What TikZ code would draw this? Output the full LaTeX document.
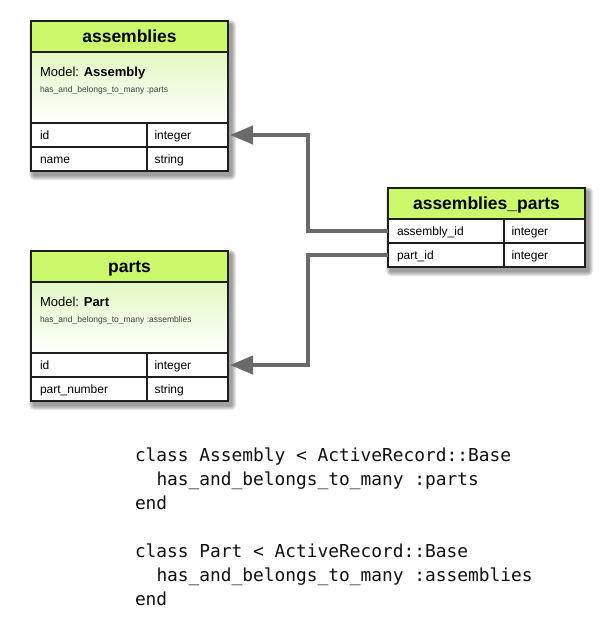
\documentclass[tikz,border=0pt]{standalone}
\usepackage{fontspec}
\setmainfont{Liberation Sans}
\newfontfamily\codefont{DejaVu Sans Mono}
\usepackage{tikz}
\usetikzlibrary{positioning,arrows.meta,calc,backgrounds,fit}
\definecolor{hdgreen}{HTML}{CCF86B}
\definecolor{mdgreen}{HTML}{E2F8C2}
\definecolor{edge}{HTML}{1E1E1E}
\definecolor{linkgray}{HTML}{6A6A6A}
\definecolor{codeink}{HTML}{111111}

\begin{document}
\begin{tikzpicture}[x=1pt,y=-1pt,
  every node/.style={outer sep=0pt},
  hd/.style={draw=edge,line width=1.2pt,fill=hdgreen,minimum width=197pt,minimum height=31pt,
    anchor=north west,inner sep=0pt,text height=12.5pt,text depth=0pt,
    font=\fontsize{17.5}{20}\selectfont\bfseries},
  md/.style={draw=edge,line width=1.2pt,top color=mdgreen,bottom color=white,
    minimum width=197pt,minimum height=71pt,anchor=north west,inner sep=0pt},
  fl/.style={draw=edge,line width=1.2pt,fill=white,minimum height=24pt,anchor=north west,
    inner ysep=0pt,inner xsep=9pt,text width=98pt,align=left,text height=8.6pt,text depth=0pt,
    font=\fontsize{12}{14}\selectfont},
  ty/.style={fl,inner xsep=7.5pt,text width=66pt},
  mt/.style={anchor=base west,inner sep=0pt,font=\fontsize{13}{15}\selectfont},
  hb/.style={anchor=base west,inner sep=0pt,text=black!75,font=\fontsize{8.5}{10}\selectfont},
  cd/.style={anchor=base west,inner sep=0pt,text=codeink,font=\fontsize{17.85}{24}\selectfont\codefont},
  ln/.style={draw=linkgray,line width=4pt,-{Triangle[length=23pt,width=18pt]},shorten >=2pt},
  sh/.style={draw=none,fill=black,fill opacity=.09,xshift=3pt,yshift=-4pt}]
\useasboundingbox (0,0) rectangle (610,621);

% assemblies
\node[hd] (as-head) at (31,21) {assemblies};
\node[md] (as-model) at (as-head.south west) {};
\node[mt] (as-name) at ($(as-model.north west)+(9,24)$) {Model: \textbf{Assembly}};
\node[hb] (as-habtm) at ($(as-model.north west)+(9,40)$) {has\_and\_belongs\_to\_many :parts};
\foreach \i/\f/\t in {1/id/integer,2/name/string}{
  \node[fl] (as-f\i) at (31,{99+\i*24}) {\f};
  \node[ty] (as-t\i) at (as-f\i.north east) {\t};
}

% parts
\node[hd] (pt-head) at (31,251) {parts};
\node[md] (pt-model) at (pt-head.south west) {};
\node[mt] (pt-name) at ($(pt-model.north west)+(9,24)$) {Model: \textbf{Part}};
\node[hb] (pt-habtm) at ($(pt-model.north west)+(9,40)$) {has\_and\_belongs\_to\_many :assemblies};
\foreach \i/\f/\t in {1/id/integer,2/part\_number/string}{
  \node[fl] (pt-f\i) at (31,{329+\i*24}) {\f};
  \node[ty] (pt-t\i) at (pt-f\i.north east) {\t};
}

% join table
\node[hd] (ap-head) at (388,188) {assemblies\_parts};
\foreach \i/\f/\t in {1/assembly\_id/integer,2/part\_id/integer}{
  \node[fl] (ap-f\i) at (388,{195+\i*24}) {\f};
  \node[ty] (ap-t\i) at (ap-f\i.north east) {\t};
}

% shadows
\begin{scope}[on background layer]
\foreach \a/\b in {as-head/as-t2,pt-head/pt-t2,ap-head/ap-t2}
  \foreach \s in {1,...,5}
    \node[sh,fit=(\a)(\b),inner sep=\s pt,rounded corners=\s pt] {};
\end{scope}

% links
\draw[ln] (ap-f1.west) -- ++(-80,0) |- (as-t1.east);
\draw[ln] (ap-f2.west) -- ++(-80,0) |- (pt-t1.east);

% ruby code
\foreach \i/\n/\t in {0/0/{class Assembly < ActiveRecord::Base},
  1/2/{has\_and\_belongs\_to\_many :parts},
  2/0/end,
  4/0/{class Part < ActiveRecord::Base},
  5/2/{has\_and\_belongs\_to\_many :assemblies},
  6/0/end}
  \node[cd] (code\i) at ({135+\n*10.75},{461+\i*24}) {\t};
\end{tikzpicture}
\end{document}
